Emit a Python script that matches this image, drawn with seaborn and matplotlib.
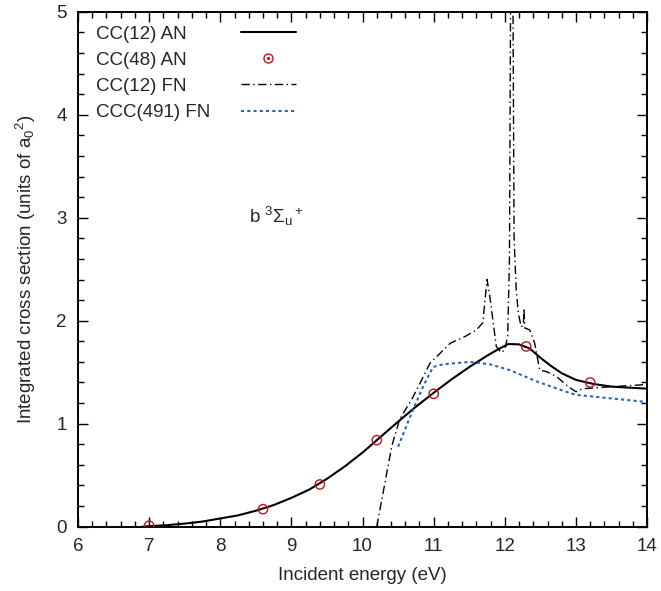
import numpy as np
import pandas as pd
import seaborn as sns
import matplotlib.pyplot as plt
from matplotlib.lines import Line2D
from matplotlib.ticker import MultipleLocator

# CC(12) AN - smooth solid curve
an12_energy = [6.9, 7.0, 7.25, 7.5, 7.75, 8.0, 8.25, 8.5, 8.75, 9.0, 9.25, 9.5,
               9.75, 10.0, 10.25, 10.5, 10.75, 11.0, 11.25, 11.5, 11.75, 11.9,
               12.05, 12.2, 12.35, 12.5, 12.65, 12.8, 13.0, 13.25, 13.5, 13.75,
               14.0]
an12_sigma = [0.0, 0.005, 0.015, 0.03, 0.05, 0.08, 0.11, 0.155, 0.21, 0.28,
              0.36, 0.465, 0.585, 0.72, 0.87, 1.02, 1.165, 1.30, 1.43, 1.55,
              1.66, 1.72, 1.774, 1.77, 1.73, 1.64, 1.56, 1.49, 1.425, 1.385,
              1.36, 1.35, 1.34]

# CC(48) AN - open circles
an48_energy = [7.0, 8.6, 9.4, 10.2, 11.0, 12.3, 13.2]
an48_sigma = [0.01, 0.17, 0.41, 0.84, 1.29, 1.75, 1.40]

# CC(12) FN - dash-dot with resonances
fn12_energy = [10.2, 10.41, 10.52, 10.71, 10.95, 11.04, 11.23, 11.45, 11.6,
               11.69, 11.75, 11.79, 11.85, 11.88, 11.95, 12.0, 12.04, 12.065,
               12.08, 12.095, 12.115, 12.13, 12.16, 12.19, 12.23, 12.26, 12.27,
               12.28, 12.35, 12.42, 12.49, 12.59, 12.73, 12.89, 13.0, 13.1,
               13.52, 13.9, 14.0]
fn12_sigma = [0.0, 0.78, 1.04, 1.26, 1.59, 1.65, 1.78, 1.85, 1.91,
              1.98, 2.40, 2.23, 1.91, 1.75, 1.69, 1.72, 1.85, 2.6,
              5.0, 8.0, 5.0, 2.8, 2.3, 2.07, 1.94, 1.96, 2.12,
              1.93, 1.91, 1.78, 1.52, 1.505, 1.456, 1.36, 1.31, 1.34,
              1.36, 1.376, 1.385]

# CCC(491) FN - blue dotted
ccc_energy = [10.5, 10.67, 10.85, 10.99, 11.13, 11.51, 11.79, 12.07, 12.45,
              12.82, 13.0, 13.29, 14.0]
ccc_sigma = [0.777, 1.07, 1.36, 1.55, 1.577, 1.60, 1.577, 1.52, 1.41,
             1.32, 1.28, 1.26, 1.21]

legend_labels = ["CC(12) AN", "CC(48) AN", "CC(12) FN", "CCC(491) FN"]

df_an12 = pd.DataFrame({"energy": an12_energy, "sigma": an12_sigma})
df_an48 = pd.DataFrame({"energy": an48_energy, "sigma": an48_sigma})
df_fn12 = pd.DataFrame({"energy": fn12_energy, "sigma": fn12_sigma})
df_ccc = pd.DataFrame({"energy": ccc_energy, "sigma": ccc_sigma})

sns.set_style("ticks")
plt.rcParams["font.family"] = ["Liberation Sans", "DejaVu Sans"]
plt.rcParams["mathtext.fontset"] = "custom"
plt.rcParams["mathtext.rm"] = "Liberation Sans"
plt.rcParams["mathtext.it"] = "Liberation Sans:italic"
plt.rcParams["font.size"] = 13.5

red = "#c0141e"
blue = "#2a64b8"
dashdot = (0, (6, 2.5, 1, 2.5))
dotted = (0, (1.5, 1.5))

fig = plt.figure(figsize=(6.61, 5.91), dpi=100)
ax = fig.add_axes([0.118, 0.1088, 0.861, 0.8714])

sns.lineplot(data=df_an12, x="energy", y="sigma", color="black", lw=1.5,
             estimator=None, ax=ax)
sns.scatterplot(data=df_an48, x="energy", y="sigma", marker="o", s=45,
                facecolor="none", edgecolor=red, linewidth=1.0, ax=ax, zorder=3)
sns.lineplot(data=df_fn12, x="energy", y="sigma", color="black", lw=1.0,
             linestyle=dashdot, estimator=None, ax=ax)
sns.lineplot(data=df_ccc, x="energy", y="sigma", color=blue, lw=1.5,
             linestyle=dotted, estimator=None, ax=ax)

ax.set_xlim(6, 14)
ax.set_ylim(0, 5)
ax.xaxis.set_major_locator(MultipleLocator(1))
ax.xaxis.set_minor_locator(MultipleLocator(0.2))
ax.yaxis.set_major_locator(MultipleLocator(1))
ax.yaxis.set_minor_locator(MultipleLocator(0.2))
ax.tick_params(which="both", direction="in", top=True, right=True,
               labelsize=13.5, width=1.0, color="black")
ax.tick_params(which="major", length=7)
ax.tick_params(which="minor", length=4)
ax.tick_params(axis="x", pad=8)
ax.tick_params(axis="y", pad=8)
for sp in ax.spines.values():
    sp.set_linewidth(1.4)
    sp.set_color("black")

ax.set_xlabel("Incident energy (eV)", fontsize=13.5, labelpad=9)
ax.set_ylabel(r"Integrated cross section (units of a$\mathregular{_0{}^2}$)",
              fontsize=13.5, labelpad=13)

ax.text(8.4, 2.95, r"b $\mathregular{^3\Sigma_u{}^+}$", fontsize=13.5)

# gnuplot-style key: labels left-aligned, samples in a column to the right
blank = [Line2D([], [], ls="none") for _ in legend_labels]
leg_text = ax.legend(blank, legend_labels, loc="upper left", frameon=False,
                     handlelength=0, handletextpad=0, labelspacing=0.48,
                     borderpad=0, borderaxespad=0, bbox_to_anchor=(0.0316, 0.973),
                     fontsize=13.5)
ax.add_artist(leg_text)

handles = [
    Line2D([], [], color="black", lw=1.5),
    (Line2D([], [], color=red, marker="o", ls="none", ms=6.5, mfc="none", mew=1.0),
     Line2D([], [], color=red, marker="o", ls="none", ms=1.3)),
    Line2D([], [], color="black", lw=1.0, ls=dashdot),
    Line2D([], [], color=blue, lw=1.5, ls=dotted),
]
ax.legend(handles, [" "] * len(handles), loc="upper left", frameon=False,
          handlelength=2.93, handletextpad=0, labelspacing=0.48,
          borderpad=0, borderaxespad=0, bbox_to_anchor=(0.2863, 0.973),
          fontsize=13.5)

fig.savefig("out.png", dpi=100)
